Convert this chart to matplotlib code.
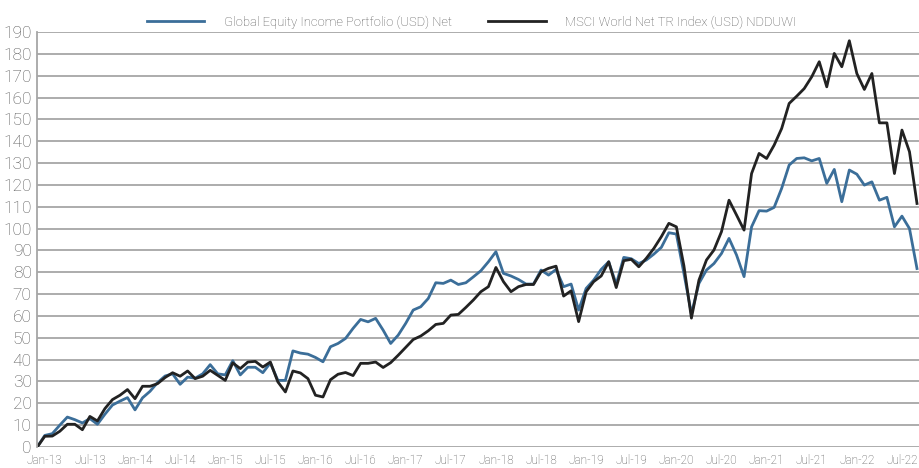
import matplotlib
matplotlib.use("Agg")
import matplotlib.pyplot as plt

plt.rcParams['font.family'] = ['Roboto', 'DejaVu Sans']

# Monthly cumulative performance (%), base Dec-12 = 0, last point Sep-22
portfolio = [
    0, 5.3, 6.1, 10, 13.7, 12.5, 11, 13, 10.4, 15,
    19.2, 21, 22.6, 17, 22.5, 25.5, 29.5, 32.5, 33.5, 28.7,
    32, 31.5, 33.5, 37.7, 33.5, 33, 39.5, 33, 36.5, 36.5,
    34, 38.5, 30.5, 30.5, 44, 43, 42.5, 41, 39, 45.9,
    47.4, 49.7, 54.3, 58.4, 57.3, 58.9, 53.5, 47.4, 51.2, 56.6,
    62.7, 64.2, 68, 75.2, 74.9, 76.4, 74.4, 75.2, 77.9, 80.7,
    84.8, 89.4, 79.5, 78.3, 76.7, 74.6, 74.6, 81, 78.7, 81.3,
    73.4, 74.6, 62.7, 72.6, 76.4, 81.3, 84.8, 74.5, 86.8, 86.2,
    84, 85.6, 88.3, 91.4, 98.1, 97.5, 79.5, 61, 74.9, 81,
    84, 88.6, 95.5, 87.9, 78, 100.8, 108.2, 108, 109.7, 118.4,
    129.1, 132.1, 132.4, 131, 132.1, 120.7, 127.1, 112.3, 126.8, 124.9,
    119.9, 121.4, 113, 114.3, 100.8, 105.7, 100, 81.7,
]
msci_world = [
    0, 4.9, 5, 7.2, 10.4, 10.4, 7.9, 14, 11.9, 17.6,
    21.7, 23.7, 26.3, 22.1, 27.8, 27.8, 29, 31.8, 34, 32.4,
    34.8, 31.3, 32.4, 35.1, 32.8, 30.5, 38.5, 35.9, 38.9, 39.2,
    36.6, 38.9, 29.8, 25.2, 34.8, 33.9, 31.3, 23.7, 22.9, 30.8,
    33.3, 34.1, 32.7, 38.3, 38.3, 38.9, 36.4, 38.6, 42, 45.6,
    49.2, 50.8, 53.2, 56.1, 56.6, 60.4, 60.7, 63.9, 67.3, 71.1,
    73.4, 82.2, 75.7, 71.1, 73.4, 74.4, 74.4, 80.2, 81.8, 82.8,
    69.1, 71.5, 57.4, 71.1, 75.7, 78.3, 84.8, 73, 85.3, 85.9,
    82.5, 86.4, 90.9, 96.3, 102.4, 100.8, 83, 59, 76.4, 85.6,
    90.2, 98.6, 113, 106.2, 99.3, 125.2, 134.4, 132.1, 138.2, 145.8,
    157.3, 160.6, 164.1, 169.5, 176.4, 164.9, 180.2, 174.1, 186, 171,
    163.7, 171, 148.4, 148.4, 125.2, 145.1, 135.2, 111.5,
]
tick_labels = [
    'Jan-13', 'Jul-13', 'Jan-14', 'Jul-14', 'Jan-15', 'Jul-15', 'Jan-16',
    'Jul-16', 'Jan-17', 'Jul-17', 'Jan-18', 'Jul-18', 'Jan-19', 'Jul-19',
    'Jan-20', 'Jul-20', 'Jan-21', 'Jul-21', 'Jan-22', 'Jul-22',
]

grey_text = '#555555'
grid_col = '#a6a6a6'

fig = plt.figure(figsize=(9.2, 4.68), dpi=100)
ax = fig.add_axes([0.0405, 0.0449, 0.9595, 0.8867])

x = range(len(portfolio))
ax.plot(x, portfolio, color='#3b6e99', lw=2.0, label='Global Equity Income Portfolio (USD) Net')
ax.plot(x, msci_world, color='#222222', lw=2.0, label='MSCI World Net TR Index (USD) NDDUWI')

ax.set_xlim(0, 117.4)
ax.set_ylim(0, 190)
ax.set_yticks(range(0, 191, 10))
ax.yaxis.grid(True, color=grid_col, lw=1.3)
ax.set_axisbelow(True)

ax.set_xticks(range(1, 1 + 6 * len(tick_labels), 6))
ax.set_xticklabels(tick_labels)

for side in ['top', 'right', 'bottom']:
    ax.spines[side].set_visible(False)
ax.spines['left'].set_color(grid_col)
ax.spines['left'].set_linewidth(1.3)

ax.tick_params(axis='y', length=0, pad=4, labelsize=12.5, labelcolor=grey_text)
ax.tick_params(axis='x', length=0, pad=5, labelsize=8.5, labelcolor=grey_text)
for t in ax.get_yticklabels() + ax.get_xticklabels():
    t.set_fontweight('light')

leg = ax.legend(loc='lower left', bbox_to_anchor=(0.118, 0.995), ncol=2, frameon=False,
                fontsize=9.4, handlelength=4.4, handletextpad=1.5, columnspacing=2.8,
                borderaxespad=0)
for t in leg.get_texts():
    t.set_color(grey_text)
    t.set_fontweight('light')

fig.savefig('out.png', dpi=100)
